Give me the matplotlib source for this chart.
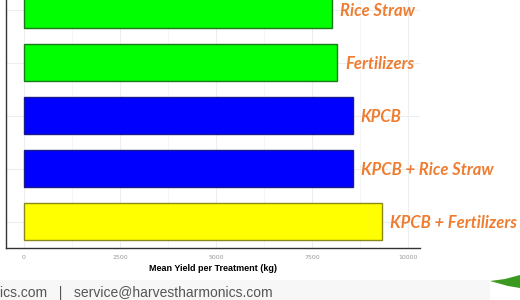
import matplotlib
matplotlib.use("Agg")
import matplotlib.pyplot as plt
from matplotlib.patches import Polygon, Rectangle
from matplotlib.ticker import MultipleLocator

# treatments listed bottom-to-top
treatments = ["KPCB + Fertilizers", "KPCB + Rice Straw", "KPCB", "Fertilizers", "Rice Straw"]
mean_yield = [9320, 8575, 8570, 8155, 8020]
bar_colors = ["#ffff00", "#0000ff", "#0000ff", "#00ff00", "#00ff00"]
edge_colors = ["#8a8a1a", "#1a1a8a", "#1a1a8a", "#1a7a1a", "#1a7a1a"]
x_ticks = [0, 2500, 5000, 7500, 10000]
footer = "ics.com   |   service@harvestharmonics.com"

W, H = 520, 300
fig = plt.figure(figsize=(W / 100, H / 100), dpi=100)

# faint footer band and green swoosh from the slide
fig.patches.append(Rectangle((0, 0), 490 / W, 20 / H, transform=fig.transFigure,
                             facecolor="#f7f7f7", edgecolor="none", zorder=0))
swoosh = [(490, 281), (505, 279), (520, 275), (520, 288), (508, 286)]
fig.patches.append(Polygon([(x / W, 1 - y / H) for x, y in swoosh], closed=True,
                           transform=fig.transFigure, facecolor="#3a9a20",
                           edgecolor="none", zorder=0))

ax = fig.add_axes([6 / W, 52 / H, 414 / W, 265 / H])
ax.set_facecolor("none")

pos = list(range(len(treatments)))
ax.barh(pos, mean_yield, height=0.7, color=bar_colors, edgecolor=edge_colors,
        linewidth=1.0, zorder=3)

for p, v, name in zip(pos, mean_yield, treatments):
    ax.annotate(name, (v, p), xytext=(5.5, -1), textcoords="offset points",
                va="center", ha="left", fontsize=12, fontfamily="Lato",
                fontweight="bold", fontstyle="italic", color="#ee7d31",
                annotation_clip=False)

ax.set_xlim(-470, 10310)
ax.set_ylim(-0.5, 4.5)
ax.set_xticks(x_ticks)
ax.set_xticklabels([str(t) for t in x_ticks])
ax.xaxis.set_minor_locator(MultipleLocator(1250))
ax.set_yticks(pos)
ax.set_yticklabels([])
ax.tick_params(axis="both", which="both", length=0)
ax.tick_params(axis="x", labelsize=4.5, labelcolor="#999999", pad=5)

ax.grid(True, which="major", axis="both", color="#eeeeee", linewidth=0.8, zorder=0)
ax.grid(True, which="minor", axis="x", color="#f5f5f5", linewidth=0.6, zorder=0)
ax.set_axisbelow(True)

for s in ["top", "right"]:
    ax.spines[s].set_visible(False)
for s in ["left", "bottom"]:
    ax.spines[s].set_color("#333333")
    ax.spines[s].set_linewidth(1.0)

ax.set_xlabel("Mean Yield per Treatment (kg)", fontsize=6.5, fontweight="bold",
              fontfamily="Liberation Sans", labelpad=3)

fig.text(0, 1 - 293 / H, footer, ha="left", va="center", fontsize=10,
         fontfamily="Liberation Sans", color="#555555")

fig.savefig("out.png", dpi=100)
